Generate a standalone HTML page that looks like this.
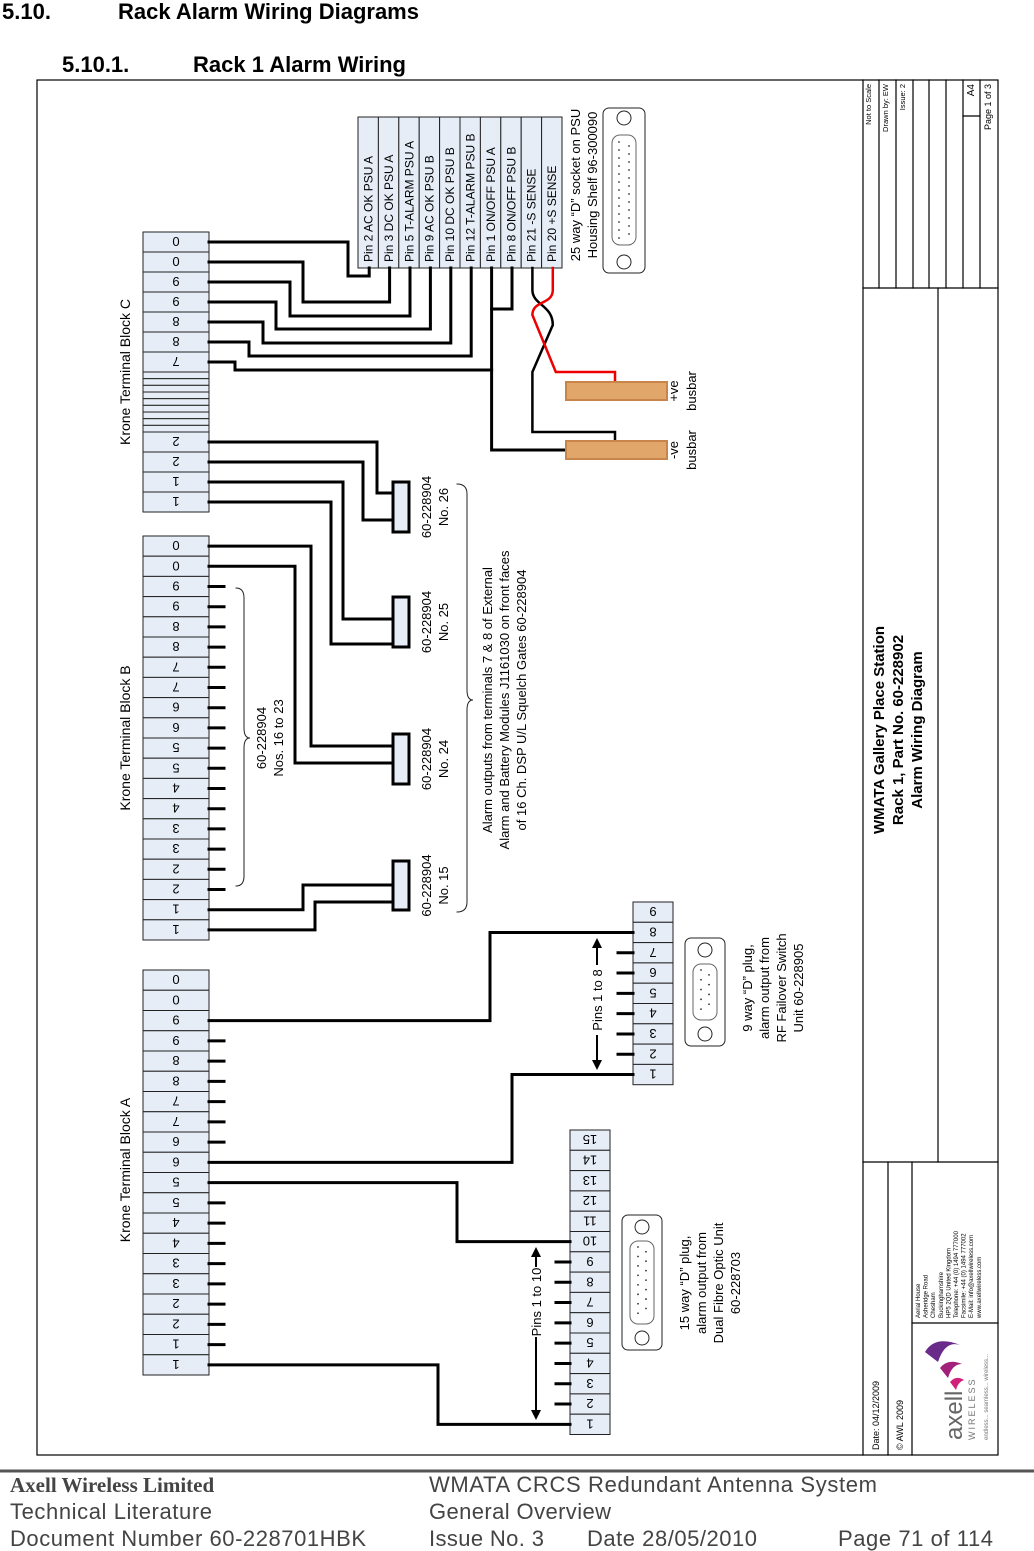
<!DOCTYPE html>
<html><head><meta charset="utf-8"><style>
html,body{margin:0;padding:0;background:#fff;}
svg{display:block;font-family:"Liberation Sans",sans-serif;}
</style></head><body>
<svg id="s" width="1034" height="1551" viewBox="0 0 1034 1551" xmlns="http://www.w3.org/2000/svg">
<rect x="0" y="0" width="1034" height="1551" fill="#fff"/>
<text x="2" y="19" font-size="22" font-weight="bold">5.10.</text>
<text x="118" y="19" font-size="22" font-weight="bold">Rack Alarm Wiring Diagrams</text>
<text x="62" y="72" font-size="22" font-weight="bold">5.10.1.</text>
<text x="193" y="72" font-size="22" font-weight="bold">Rack 1 Alarm Wiring</text>
<rect x="37" y="80" width="961" height="1375" fill="none" stroke="#000" stroke-width="1.2"/>
<g id="g" stroke-linecap="square"></g>
<line x1="0" y1="1471" x2="1034" y2="1471" stroke="#555" stroke-width="3"/>
<g font-family="'Liberation Sans Narrow','Liberation Sans',sans-serif" fill="#444" font-size="22">
<text x="10" y="1492" font-family="'Liberation Serif',serif" font-weight="bold" font-size="21">Axell Wireless Limited</text>
<text x="10" y="1519" textLength="202">Technical Literature</text>
<text x="10" y="1546" textLength="356">Document Number 60-228701HBK</text>
<text x="429" y="1492" textLength="448">WMATA CRCS Redundant Antenna System</text>
<text x="429" y="1519" textLength="182">General Overview</text>
<text x="429" y="1546" textLength="115">Issue No. 3</text>
<text x="587" y="1546" textLength="170">Date 28/05/2010</text>
<text x="838" y="1546" textLength="155">Page 71 of 114</text>
</g>
</svg>
<script>
const blockCLabels=["0","0","9","9","8","8","7","2","2","1","1"];
const blockBLabels=["0","0","9","9","8","8","7","7","6","6","5","5","4","4","3","3","2","2","1","1"];
const blockALabels=["0","0","9","9","8","8","7","7","6","6","5","5","4","4","3","3","2","2","1","1"];
const psuPins=["Pin 2 AC OK PSU A","Pin 3 DC OK PSU A","Pin 5 T-ALARM PSU A","Pin 9 AC OK PSU B","Pin 10 DC OK PSU B","Pin 12 T-ALARM PSU B","Pin 1 ON/OFF PSU A","Pin 8 ON/OFF PSU B","Pin 21 -S SENSE","Pin 20 +S SENSE"];
const nineLabels=["9","8","7","6","5","4","3","2","1"];
const fifteenLabels=["15","14","13","12","11","10","9","8","7","6","5","4","3","2","1"];
const gateNos=["No. 26","No. 25","No. 24","No. 15"];

const NS="http://www.w3.org/2000/svg";
const G=document.getElementById('g');
function mk(tag,attrs){const e=document.createElementNS(NS,tag);for(const k in attrs)e.setAttribute(k,attrs[k]);G.appendChild(e);return e;}
function txt(x,y,s,size,rot,anchor,extra){
  const e=mk('text',Object.assign({x:0,y:0,'font-size':size,'text-anchor':anchor||'middle',transform:`translate(${x},${y}) rotate(${rot})`},extra||{}));
  e.textContent=s;return e;}
function wire(pts,col){return mk('polyline',{points:pts.map(p=>p.join(',')).join(' '),fill:'none',stroke:col||'#000','stroke-width':3});}
const FILL="#e6edf7";

function block(x,top,labels,rowH,name,stripeAfter){
  let y=top;
  const ys=[];
  labels.forEach((l,i)=>{
    const r=mk('rect',{x:x,y:y,width:66,height:rowH,fill:FILL,stroke:'#222','stroke-width':1});
    
    
    const t=txt(x+33,y+rowH/2-5,l,13,180,'middle');
    
    
    ys.push(y+rowH/2);
    y+=rowH;
    if(stripeAfter!==undefined && i===stripeAfter){
      for(let k=0;k<9;k++){const s=mk('rect',{x:x,y:y+k*6.67,width:66,height:6.67,fill:FILL,stroke:'#222','stroke-width':1});
        
        }
      y+=60;
    }
  });
  return ys;
}
const yC=block(143,232,blockCLabels,20,'block-c',6);
const yB=block(143,536,blockBLabels,20.2,'block-b');
const yA=block(143,970,blockALabels,20.25,'block-a');
[["Krone Terminal Block C",372],["Krone Terminal Block B",738],["Krone Terminal Block A",1170]].forEach(([s,y])=>{
  const t=txt(130,y,s,14,-90,'middle');
  
  
});

for(let i=2;i<=17;i++) wire([[209,yB[i]],[224,yB[i]]]);
for(let i=3;i<=8;i++) wire([[209,yA[i]],[224,yA[i]]]);
for(let i=11;i<=18;i++) wire([[209,yA[i]],[224,yA[i]]]);

const TX=358,TW=20.4,TY=117,TH=151;
psuPins.forEach((p,i)=>{
  const r=mk('rect',{x:TX+i*TW,y:TY,width:TW,height:TH,fill:FILL,stroke:'#222','stroke-width':1});
  
  
  const t=txt(TX+i*TW+14.5,TY+TH-6,p,12,-90,'start');
  
  
});
const pc=i=>TX+i*TW+TW/2+1;
wire([[209,yC[0]],[348,yC[0]],[348,276],[pc(0),276],[pc(0),268]]);
wire([[209,yC[1]],[303,yC[1]],[303,302],[pc(1),302],[pc(1),268]]);
wire([[209,yC[2]],[290,yC[2]],[290,316],[pc(2),316],[pc(2),268]]);
wire([[209,yC[3]],[276,yC[3]],[276,329],[pc(3),329],[pc(3),268]]);
wire([[209,yC[4]],[263,yC[4]],[263,343],[pc(4),343],[pc(4),268]]);
wire([[209,yC[5]],[249,yC[5]],[249,356],[pc(5),356],[pc(5),268]]);
wire([[209,yC[6]],[235,yC[6]],[235,370],[pc(6),370]]);
wire([[pc(6),268],[pc(6),450],[566,450]]);
wire([[pc(7),268],[pc(7),309],[pc(6),309]]);
mk('path',{d:`M${pc(8)},268 L${pc(8)},290 C${pc(8)},305 ${pc(9)},305 ${pc(9)},325 L${pc(8)},372 L${pc(8)},432 L615,432 L615,441`,fill:'none',stroke:'#000','stroke-width':2.5});
mk('path',{d:`M${pc(9)},268 L${pc(9)},290 C${pc(9)},305 ${pc(8)},300 ${pc(8)},315 L${pc(9)+3},372 L615,372 L615,382`,fill:'none',stroke:'#e00','stroke-width':2.5});
[[382,"+ve","busbar"],[441,"-ve","busbar"]].forEach(([y,a,b])=>{
  const r=mk('rect',{x:566,y:y,width:101,height:18,fill:'#e0a66a',stroke:'#c9844a','stroke-width':2});
  
  
  const t1=txt(678,y+9,a,13,-90,'middle');
  
  
  const t2=txt(696,y+9,b,13,-90,'middle');
  
  
});
const sock=mk('rect',{x:603,y:108,width:42,height:165,rx:6,fill:'#fff',stroke:'#222','stroke-width':1});


mk('rect',{x:612,y:135,width:24,height:110,rx:8,fill:'none',stroke:'#666','stroke-width':1});
[118,262].forEach(y=>mk('circle',{cx:624,cy:y,r:7,fill:'none',stroke:'#222','stroke-width':1}));
for(let k=0;k<13;k++)mk('circle',{cx:619,cy:142+k*8,r:0.9,fill:'#333'});
for(let k=0;k<12;k++)mk('circle',{cx:629,cy:146+k*8,r:0.9,fill:'#333'});
let t=txt(580,185,'25 way \u201CD\u201D socket on PSU',13,-90,'middle');


t=txt(597,185,'Housing Shelf 96-300090',13,-90,'middle');



const gates=[[482,532],[597,647],[734,784],[861,910]];
gates.forEach(([a,b],i)=>{
  const r=mk('rect',{x:393,y:a,width:16,height:b-a,fill:FILL,stroke:'#000','stroke-width':3});
  
  
  const m=(a+b)/2;
  let t=txt(431,m,'60-228904',13,-90,'middle');
  
  
  t=txt(448,m,gateNos[i],13,-90,'middle');
  
  
});
wire([[209,yC[7]],[377,yC[7]],[377,493],[393,493]]);
wire([[209,yC[8]],[363,yC[8]],[363,520],[393,520]]);
wire([[209,yC[9]],[343,yC[9]],[343,619],[393,619]]);
wire([[209,yC[10]],[331,yC[10]],[331,644],[393,644]]);
wire([[209,yB[0]],[311,yB[0]],[311,746],[393,746]]);
wire([[209,yB[1]],[295,yB[1]],[295,763],[393,763]]);
wire([[209,yB[18]],[303,yB[18]],[303,885],[393,885]]);
wire([[209,yB[19]],[315,yB[19]],[315,902],[393,902]]);
mk('path',{d:'M236,588 Q244,588 244,598 L244,728 Q244,738 250,738 Q244,738 244,748 L244,876 Q244,886 236,886',fill:'none',stroke:'#222','stroke-width':1});
t=txt(266,738,'60-228904',13,-90,'middle');
t=txt(283,738,'Nos. 16 to 23',13,-90,'middle');
mk('path',{d:'M457,484 Q467,484 467,494 L467,690 Q467,700 473,700 Q467,700 467,710 L467,902 Q467,912 457,912',fill:'none',stroke:'#222','stroke-width':1});
["Alarm outputs from terminals 7 & 8 of External","Alarm and Battery Modules J1161030 on front faces","of 16 Ch. DSP U/L  Squelch Gates 60-228904"].forEach((s,i)=>{
  const t=txt(492+i*17,700,s,13,-90,'middle');
  
  
});

function conn(x,top,labels,rowH,name){const ys=[];labels.forEach((l,i)=>{const y=top+i*rowH;
  const r=mk('rect',{x:x,y:y,width:40,height:rowH,fill:FILL,stroke:'#222','stroke-width':1});
  
  
  const t=txt(x+20,y+rowH/2-5,l,13,180,'middle');
  
  
  ys.push(y+rowH/2);});return ys;}
const y9=conn(633,902,nineLabels,20.3,'nine-way');
const y15=conn(570,1130,fifteenLabels,20.3,'fifteen-way');
for(let i=2;i<=7;i++) wire([[618,y9[i]],[633,y9[i]]]);
for(let i=6;i<=13;i++) wire([[556,y15[i]],[570,y15[i]]]);
wire([[209,yA[2]],[490,yA[2]],[490,y9[1]],[633,y9[1]]]);
wire([[209,yA[9]],[512,yA[9]],[512,y9[8]],[633,y9[8]]]);
wire([[209,yA[10]],[457,yA[10]],[457,y15[5]],[570,y15[5]]]);
wire([[209,yA[19]],[438,yA[19]],[438,y15[14]],[570,y15[14]]]);
function arrow(x,a,b,label,mid){
  mk('line',{x1:x,y1:a+8,x2:x,y2:b-8,stroke:'#000','stroke-width':2});
  mk('polygon',{points:`${x-5},${a+10} ${x+5},${a+10} ${x},${a}`,fill:'#000'});
  mk('polygon',{points:`${x-5},${b-10} ${x+5},${b-10} ${x},${b}`,fill:'#000'});
  mk('rect',{x:x-8,y:mid-35,width:14,height:70,fill:'#fff'});
  const t=txt(x+5,mid,label,13,-90,'middle');
  
  
}
arrow(597,938,1070,'Pins 1 to 8',1000);
arrow(536,1247,1420,'Pins 1 to 10',1302);
function dplug(x,y,h,n,name){
  const r=mk('rect',{x:x,y:y,width:40,height:h,rx:6,fill:'#fff',stroke:'#222','stroke-width':1});
  
  
  mk('circle',{cx:x+20,cy:y+12,r:7,fill:'none',stroke:'#222'});
  mk('circle',{cx:x+20,cy:y+h-12,r:7,fill:'none',stroke:'#222'});
  mk('rect',{x:x+8,y:y+26,width:24,height:h-52,rx:8,fill:'none',stroke:'#666'});
  for(let k=0;k<n;k++)mk('circle',{cx:x+16+(k%2)*8,cy:y+32+k*(h-64)/n,r:0.9,fill:'#333'});
}
dplug(685,938,108,9,'nine-way-d-plug');
dplug(622,1215,135,15,'fifteen-way-d-plug');
["9 way \u201CD\u201D plug,","alarm output from","RF Failover Switch","Unit 60-228905"].forEach((s,i)=>{
  const t=txt(752+i*17,988,s,13,-90,'middle');
  
  
});
["15 way \u201CD\u201D plug,","alarm output from","Dual Fibre Optic Unit","60-228703"].forEach((s,i)=>{
  const t=txt(689+i*17,1283,s,13,-90,'middle');
  
  
});

const L=(x1,y1,x2,y2)=>mk('line',{x1,y1,x2,y2,stroke:'#000','stroke-width':1.2});
L(863,80,863,1455);
[879,896,913,929,946,963,980].forEach(x=>L(x,80,x,288));
L(863,288,998,288);L(938,288,938,1162);L(963,116,980,116);
L(863,1162,998,1162);L(888,1162,888,1455);L(912,1162,912,1455);L(912,1323,998,1323);
[["Not to Scale",871,7.5],["Drawn by: EW",888,7.5],["Issue: 2",905,7.5],["A4",974,10],["Page 1 of 3",991,9]].forEach(([s,x,f])=>{
  const t=txt(x,84,s,f,-90,'end');
  
  
});
t=txt(884,730,'WMATA Gallery Place Station',15,-90,'middle',{'font-weight':'bold'});
t=txt(903,730,'Rack 1, Part No. 60-228902',15,-90,'middle',{'font-weight':'bold'});
t=txt(922,730,'Alarm Wiring Diagram',15,-90,'middle',{'font-weight':'bold'});
t=txt(879,1450,'Date: 04/12/2009',9,-90,'start');
t=txt(903,1450,'\u00A9 AWL 2009',9,-90,'start');
["Aerial House","Asheridge Road","Chesham","Buckinghamshire","HP5 2QD United Kingdom","Telephone: +44 (0) 1494 777000","Facsimile: +44 (0) 1494 777002","E-Mail: info@axellwireless.com","www.axellwireless.com"].forEach((s,i)=>{
  const t=txt(920+i*7.6,1318,s,6,-90,'start');
  
  
});
mk('path',{d:'M925,1352 Q935,1335 960,1345 Q945,1340 938,1362 Z',fill:'#6a2a8a'});
mk('path',{d:'M940,1368 Q948,1358 962,1364 Q952,1364 948,1378 Z',fill:'#a0207a'});
mk('path',{d:'M950,1382 Q956,1375 964,1380 Q958,1382 956,1390 Z',fill:'#d0207a'});
t=txt(962,1440,'axell',24,-90,'start',{fill:'#666'});
t=txt(975,1440,'WIRELESS',9,-90,'start',{fill:'#777','letter-spacing':'2'});
t=txt(988,1440,'endless... seamless... wireless...',6,-90,'start',{fill:'#777'});
</script>
</body></html>
